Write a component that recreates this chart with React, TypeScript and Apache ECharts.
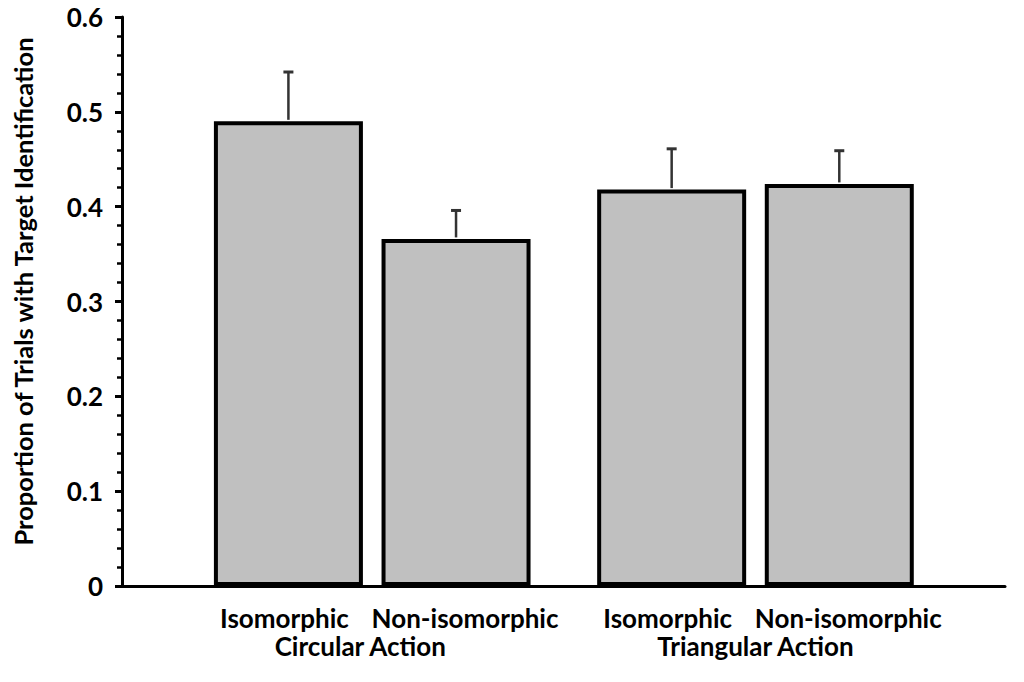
import React, { useEffect, useRef } from "react";
import * as echarts from "echarts";

const categories = ["Circular Action", "Triangular Action"];
const seriesNames = ["Isomorphic", "Non-isomorphic"];
const isoMeans = [0.49, 0.418];
const nonIsoMeans = [0.366, 0.424];
const isoErr = [0.052, 0.043];
const nonIsoErr = [0.03, 0.035];
const yTicks = [0, 0.1, 0.2, 0.3, 0.4, 0.5, 0.6];
const yTitle = "Proportion of Trials with Target Identification";

const FONT = "Lato, 'Open Sans', sans-serif";
const BAR_W = 149;
const BAR_GAP = 0.125;

export default function App() {
  const ref = useRef<HTMLDivElement>(null);
  useEffect(() => {
    if (!ref.current) return;
    const chart = echarts.init(ref.current, undefined, { renderer: "svg" });
    const half = (BAR_W + BAR_W * BAR_GAP) / 2;
    const errSeries = (means: number[], errs: number[], offset: number, name: string) => ({
      type: "custom",
      name: name + " err",
      xAxisIndex: 1,
      yAxisIndex: 1,
      clip: false,
      z: 10,
      data: means.map((m, i) => [i, m, errs[i]]),
      renderItem: (params: any, api: any) => {
        const base = api.coord([api.value(0), api.value(1)]);
        const top = api.coord([api.value(0), api.value(1) + api.value(2)]);
        const x = base[0] + offset;
        const st = { stroke: "#333", lineWidth: 2.5 };
        return {
          type: "group",
          children: [
            { type: "line", shape: { x1: x, y1: base[1] - 1.5, x2: x, y2: top[1] }, style: st },
            { type: "line", shape: { x1: x - 5, y1: top[1], x2: x + 5, y2: top[1] }, style: { stroke: "#333", lineWidth: 3 } },
          ],
        };
      },
    });
    const barLabel = (dx: number) => ({
      show: true,
      position: "bottom",
      distance: 19,
      offset: [dx, 0],
      formatter: "{a}",
      fontSize: 26,
      fontWeight: "bold",
      fontFamily: FONT,
      color: "#000",
    });
    const option: any = {
      animation: false,
      backgroundColor: "#fff",
      grid: [
        { left: 122, right: 19, top: 17, bottom: 96 },
        { left: 180.6, right: 76.9, top: 17, bottom: 96 },
      ],
      xAxis: [
        {
          gridIndex: 0,
          type: "category",
          data: categories,
          axisLine: { show: true, lineStyle: { color: "#000", width: 3 } },
          axisTick: { show: false },
          axisLabel: { show: false },
          splitLine: { show: false },
        },
        {
          gridIndex: 1,
          type: "category",
          data: categories,
          axisLine: { show: false },
          axisTick: { show: false },
          splitLine: { show: false },
          axisLabel: {
            margin: 47,
            formatter: (v: string, i: number) => (i === 0 ? "{a|" + v + "}" : "{b|" + v + "}"),
            rich: {
              a: { fontSize: 26, fontWeight: "bold", fontFamily: FONT, color: "#000", padding: [0, 24, 0, 0] },
              b: { fontSize: 26, fontWeight: "bold", fontFamily: FONT, color: "#000" },
            },
          },
        },
      ],
      yAxis: [
        {
          gridIndex: 0,
          type: "value",
          min: yTicks[0],
          max: yTicks[yTicks.length - 1],
          interval: 0.1,
          name: yTitle,
          nameLocation: "middle",
          nameGap: 86,
          nameTextStyle: {
            fontSize: 25.5,
            fontWeight: "bold",
            fontFamily: FONT,
            color: "#000",
            padding: [0, 0, 0, 20],
          },
          axisLine: { show: true, lineStyle: { color: "#000", width: 3 } },
          axisTick: { show: true, inside: false, length: 7, lineStyle: { color: "#000", width: 3 } },
          minorTick: { show: true, splitNumber: 5, length: 5, lineStyle: { color: "#000", width: 2.5 } },
          splitLine: { show: false },
          axisLabel: {
            margin: 19,
            fontSize: 26,
            fontWeight: "bold",
            fontFamily: FONT,
            color: "#000",
            formatter: (v: number) => (v === 0 ? "0" : v.toFixed(1)),
          },
        },
        {
          gridIndex: 1,
          type: "value",
          min: yTicks[0],
          max: yTicks[yTicks.length - 1],
          interval: 0.1,
          show: false,
          splitLine: { show: false },
        },
      ],
      series: [
        {
          type: "bar",
          name: seriesNames[0],
          xAxisIndex: 1,
          yAxisIndex: 1,
          data: isoMeans,
          barWidth: BAR_W,
          barGap: BAR_GAP * 100 + "%",
          itemStyle: { color: "#c0c0c0", borderColor: "#000", borderWidth: 4 },
          label: barLabel(-4),
        },
        {
          type: "bar",
          name: seriesNames[1],
          xAxisIndex: 1,
          yAxisIndex: 1,
          data: nonIsoMeans,
          barWidth: BAR_W,
          barGap: BAR_GAP * 100 + "%",
          itemStyle: { color: "#c0c0c0", borderColor: "#000", borderWidth: 4 },
          label: barLabel(9),
        },
        errSeries(isoMeans, isoErr, -half, seriesNames[0]),
        errSeries(nonIsoMeans, nonIsoErr, half, seriesNames[1]),
      ],
    };
    chart.setOption(option);
    return () => chart.dispose();
  }, []);
  return (
    <div
      ref={ref}
      style={{ position: "fixed", left: 0, top: 0, width: 1024, height: 682, background: "#fff" }}
    />
  );
}
